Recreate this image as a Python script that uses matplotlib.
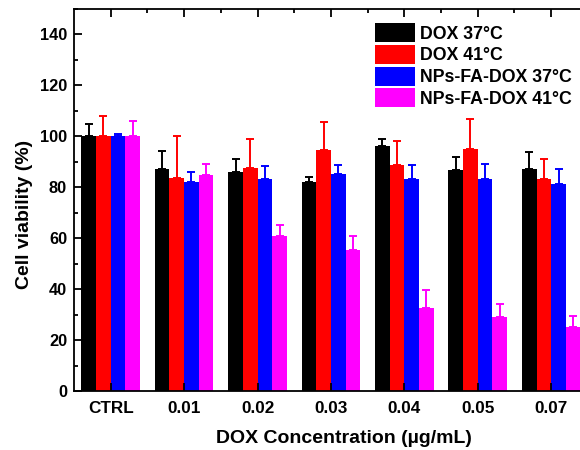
import matplotlib
matplotlib.use('Agg')
import matplotlib.pyplot as plt
import numpy as np
from matplotlib.ticker import MultipleLocator, FixedLocator

plt.rcParams['font.family'] = ['Liberation Sans', 'DejaVu Sans']
plt.rcParams['font.weight'] = 'bold'

groups = ['CTRL', '0.01', '0.02', '0.03', '0.04', '0.05', '0.07']
series_names = ['DOX 37°C', 'DOX 41°C', 'NPs-FA-DOX 37°C', 'NPs-FA-DOX 41°C']
colors = ['#000000', '#ff0000', '#0000ff', '#ff00ff']

dox37 = [100, 87.2, 85.9, 82.0, 96.3, 86.6, 87.3]
dox37_err = [5.0, 7.1, 5.2, 2.1, 2.8, 5.3, 6.7]
dox41 = [100, 83.7, 87.7, 94.7, 88.7, 95.2, 83.3]
dox41_err = [7.8, 16.6, 11.3, 11.1, 9.6, 11.4, 7.6]
np37 = [100, 82.1, 83.3, 85.1, 83.3, 83.3, 81.2]
np37_err = [1.1, 3.7, 5.2, 3.8, 5.5, 6.0, 6.1]
np41 = [100, 84.7, 61.0, 55.4, 32.7, 29.0, 25.1]
np41_err = [6.0, 4.6, 4.2, 5.4, 7.0, 5.2, 4.5]

values = [dox37, dox41, np37, np41]
errors = [dox37_err, dox41_err, np37_err, np41_err]

fig = plt.figure(figsize=(5.8, 4.5), dpi=100)
# axes runs a bit past the right edge of the figure, like the original crop
ax = fig.add_axes([0.1276, 0.1311, 0.886, 0.849])

x = np.arange(len(groups))
w = 0.2
offsets = [-0.3, -0.1, 0.1, 0.3]
for vals, errs, c, name, off in zip(values, errors, colors, series_names, offsets):
    errs = np.array(errs)
    ax.bar(x + off, vals, w, color=c, label=name,
           yerr=[np.zeros_like(errs), errs], ecolor=c,
           error_kw=dict(elinewidth=1.4, capsize=2.8, capthick=1.4))

ax.set_xlim(-0.5, 6.5)
ax.set_ylim(0, 150)
ax.set_xticks(x)
ax.set_xticklabels(groups)
ax.xaxis.set_minor_locator(FixedLocator(x[:-1] + 0.5))
ax.yaxis.set_minor_locator(MultipleLocator(10))
ax.set_yticks(np.arange(0, 141, 20))

for s in ax.spines.values():
    s.set_linewidth(1.3)
ax.tick_params(which='both', direction='in', top=True, right=True, width=1.3)
ax.tick_params(which='major', length=5.5)
ax.tick_params(which='minor', length=3, bottom=False)
ax.tick_params(axis='x', pad=7, labelsize=12.3)
ax.tick_params(axis='y', pad=5, labelsize=11.8)

ax.set_ylabel('Cell viability (%)', fontsize=14, fontweight='bold')
ax.set_xlabel('DOX Concentration (µg/mL)', fontsize=14, fontweight='bold')
ax.yaxis.set_label_coords(-0.08, 0.463)
ax.xaxis.set_label_coords(0.525, -0.103)

fig.legend(loc='upper left', bbox_to_anchor=(0.6466, 0.948), frameon=False,
           fontsize=12.8, borderpad=0, handlelength=2.25, handleheight=1.25,
           labelspacing=0.13, handletextpad=0.3, borderaxespad=0)

fig.savefig('out.png', dpi=100)
